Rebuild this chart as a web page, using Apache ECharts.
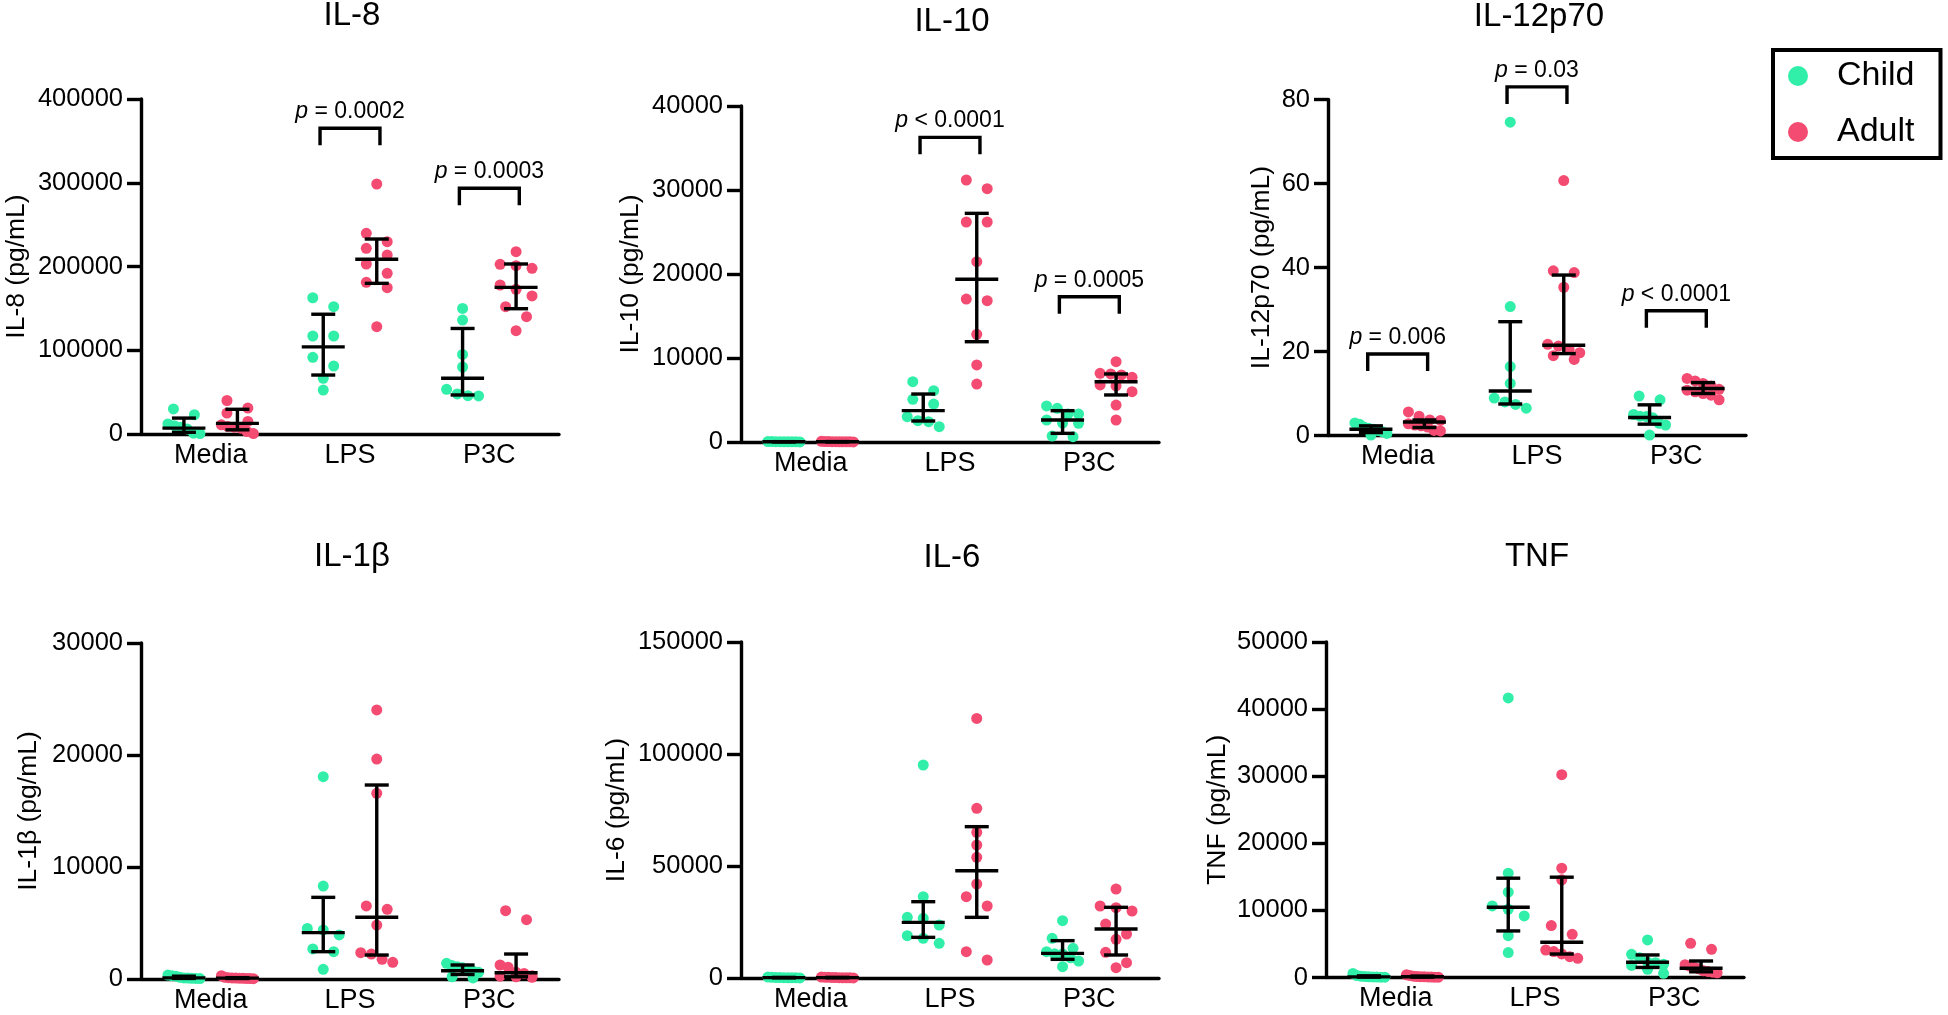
<!DOCTYPE html>
<html><head><meta charset="utf-8">
<script src="https://cdn.jsdelivr.net/npm/echarts@6/dist/echarts.min.js"></script>
<style>html,body{margin:0;padding:0;background:#fff}#c{width:1948px;height:1015px}</style>
</head><body><div id="c"></div>
<script>
// ---------------- DATA ----------------
const CATEGORIES = ['Media', 'LPS', 'P3C'];
const GROUPS = ['Child', 'Adult'];

// IL-8
const IL8_CHILD = [[30000, 23000, 12000, 10000, 8000, 6000, 1000, 500],
  [162700, 152000, 117000, 117000, 91500, 81200, 66500, 52500],
  [150000, 136000, 95000, 80000, 53300, 47800, 45800, 45500]];
const IL8_ADULT = [[40000, 31000, 25000, 15000, 11000, 9000, 8000, 7000, 3000, 500],
  [298500, 239600, 229600, 221700, 213700, 203000, 191900, 181100, 174700, 128100],
  [217700, 202600, 201000, 197800, 177900, 172700, 164800, 152000, 140100, 123400]];
const IL8_CHILD_MED_IQR = [[7000, 2000, 19000], [104000, 70400, 143000], [66500, 46600, 126000]];
const IL8_ADULT_MED_IQR = [[12700, 5000, 29500], [208600, 179900, 232800], [175100, 149600, 203000]];
const IL8_P = ['', 'p = 0.0002', 'p = 0.0003'];
const IL8_BRACKET = [null, 365000, 293400];
const IL8_Y = [0, 400000, 100000];

// IL-10
const IL10_CHILD = [[60, 50, 40, 40, 30, 30, 20, 20, 10],
  [7180, 6110, 5080, 4520, 3010, 2540, 2420, 1820],
  [4290, 4010, 3330, 3330, 2620, 2240, 2220, 700, 630]];
const IL10_ADULT = [[80, 60, 50, 40, 40, 30, 30, 20, 20, 10],
  [31190, 30160, 26190, 26190, 21470, 17020, 16830, 12820, 9170, 6900],
  [9560, 8180, 8100, 7980, 7700, 6790, 6670, 5990, 4400, 2620]];
const IL10_CHILD_MED_IQR = [[30, 20, 40], [3730, 2500, 5710], [2620, 1030, 3730]];
const IL10_ADULT_MED_IQR = [[35, 20, 50], [19370, 11940, 27220], [7180, 5600, 8100]];
const IL10_P = ['', 'p < 0.0001', 'p = 0.0005'];
const IL10_BRACKET = [null, 36270, 17300];
const IL10_Y = [0, 40000, 10000];

// IL-12p70
const IL12_CHILD = [[3.0, 2.7, 2.0, 1.7, 1.5, 1.2, 0.9, 0.5, 0.1],
  [74.6, 30.7, 16.4, 12.4, 8.9, 8.0, 7.4, 6.5],
  [9.4, 8.5, 5.0, 4.6, 4.5, 4.2, 2.9, 2.5, 0.1]];
const IL12_ADULT = [[5.6, 4.6, 3.7, 3.6, 2.8, 2.5, 2.3, 2.0, 1.2, 1.1],
  [60.7, 39.2, 38.8, 35.3, 21.7, 21.3, 20.5, 19.7, 19.0, 18.1],
  [13.6, 13.0, 12.4, 11.8, 11.0, 10.8, 10.4, 10.0, 9.6, 8.5]];
const IL12_CHILD_MED_IQR = [[1.5, 0.7, 2.3], [10.6, 7.5, 27.1], [4.3, 2.7, 7.3]];
const IL12_ADULT_MED_IQR = [[3.2, 1.9, 3.7], [21.5, 19.5, 38.2], [11.2, 10.0, 12.6]];
const IL12_P = ['p = 0.006', 'p = 0.03', 'p < 0.0001'];
const IL12_BRACKET = [19.4, 83.0, 29.7];
const IL12_Y = [0, 80, 20];

// IL-1β
const IL1B_CHILD = [[350, 300, 250, 150, 100, 80, 60, 50, 40],
  [18060, 8300, 4520, 4380, 3930, 2680, 2440, 860],
  [1400, 1200, 1100, 1000, 900, 700, 600, 200, 100]];
const IL1B_ADULT = [[300, 150, 120, 100, 80, 70, 60, 50, 40, 30],
  [24020, 19640, 16580, 6520, 6220, 4820, 2350, 2230, 1760, 1490],
  [6100, 5300, 1250, 1050, 600, 500, 300, 250, 200, 150]];
const IL1B_CHILD_MED_IQR = [[100, 50, 250], [4140, 2440, 7290], [740, 400, 1250]];
const IL1B_ADULT_MED_IQR = [[75, 45, 120], [5510, 2140, 17320], [560, 200, 2230]];
const IL1B_P = ['', '', ''];
const IL1B_BRACKET = [null, null, null];
const IL1B_Y = [0, 30000, 10000];

// IL-6
const IL6_CHILD = [[400, 300, 250, 200, 150, 100, 80, 60, 50],
  [95090, 36310, 27080, 26640, 23660, 18900, 17710, 15480],
  [25590, 17710, 13240, 11750, 10800, 10710, 9000, 7590, 5060]];
const IL6_ADULT = [[400, 350, 300, 250, 200, 150, 100, 80, 60, 50],
  [115900, 75740, 65030, 59370, 53870, 41960, 36300, 32140, 11750, 8040],
  [39730, 32140, 31400, 29910, 24100, 19640, 17260, 11460, 6850, 4610]];
const IL6_CHILD_MED_IQR = [[150, 70, 275], [24850, 18150, 34070], [11010, 8330, 16670]];
const IL6_ADULT_MED_IQR = [[175, 90, 300], [47900, 27080, 67560], [21870, 10270, 31550]];
const IL6_P = ['', '', ''];
const IL6_BRACKET = [null, null, null];
const IL6_Y = [0, 150000, 50000];

// TNF
const TNF_CHILD = [[600, 300, 200, 150, 100, 80, 60, 50, 40],
  [41670, 15550, 12710, 10670, 10170, 9180, 6240, 3710],
  [5600, 3460, 2960, 2270, 2200, 1970, 1800, 1220, 620]];
const TNF_ADULT = [[400, 300, 200, 150, 120, 100, 80, 60, 50, 40],
  [30220, 16290, 14550, 7740, 6440, 4100, 3860, 3510, 3110, 2860],
  [5100, 4200, 1900, 1700, 1500, 1300, 1000, 900, 800, 700]];
const TNF_CHILD_MED_IQR = [[100, 55, 250], [10470, 6940, 14800], [2270, 1500, 3360]];
const TNF_ADULT_MED_IQR = [[110, 55, 220], [5250, 3500, 14950], [1370, 850, 2460]];
const TNF_P = ['', '', ''];
const TNF_BRACKET = [null, null, null];
const TNF_Y = [0, 50000, 10000];

const TITLES = ['IL-8', 'IL-10', 'IL-12p70', 'IL-1β', 'IL-6', 'TNF'];
const YNAMES = ['IL-8 (pg/mL)', 'IL-10 (pg/mL)', 'IL-12p70 (pg/mL)', 'IL-1β (pg/mL)', 'IL-6 (pg/mL)', 'TNF (pg/mL)'];

// ---------------- LAYOUT / STYLE ----------------
const FONT = "'Liberation Sans', Arial, Helvetica, sans-serif";
const GREEN = '#31EFA9', PINK = '#F34B71';
const DOT = 11, MAXHALF = 16, OFFS = 0.192, BR_HALF = 0.215, LW = 3.4;
const GRID_W = 418;
const PFONT = 23;
const LAYOUTS = [
  {left: 141, top: 99, height: 335, gap: 111, tx: 352, ty: 16},
  {left: 741, top: 106, height: 336, gap: 97, tx: 952, ty: 22},
  {left: 1328, top: 99.5, height: 336, gap: 53, tx: 1539, ty: 17},
  {left: 141, top: 643, height: 336, gap: 99, tx: 352, ty: 557},
  {left: 741, top: 642, height: 336, gap: 111, tx: 952, ty: 558},
  {left: 1326, top: 642, height: 335.5, gap: 95, tx: 1537, ty: 556.5}
];

const PANELS = [
  [IL8_CHILD, IL8_ADULT, IL8_CHILD_MED_IQR, IL8_ADULT_MED_IQR, IL8_P, IL8_BRACKET, IL8_Y],
  [IL10_CHILD, IL10_ADULT, IL10_CHILD_MED_IQR, IL10_ADULT_MED_IQR, IL10_P, IL10_BRACKET, IL10_Y],
  [IL12_CHILD, IL12_ADULT, IL12_CHILD_MED_IQR, IL12_ADULT_MED_IQR, IL12_P, IL12_BRACKET, IL12_Y],
  [IL1B_CHILD, IL1B_ADULT, IL1B_CHILD_MED_IQR, IL1B_ADULT_MED_IQR, IL1B_P, IL1B_BRACKET, IL1B_Y],
  [IL6_CHILD, IL6_ADULT, IL6_CHILD_MED_IQR, IL6_ADULT_MED_IQR, IL6_P, IL6_BRACKET, IL6_Y],
  [TNF_CHILD, TNF_ADULT, TNF_CHILD_MED_IQR, TNF_ADULT_MED_IQR, TNF_P, TNF_BRACKET, TNF_Y]
];

// deterministic swarm: rows of colliding points spread horizontally (pixel-based)
function swarm(values, pxPerY, pxPerX) {
  const idx = values.map((v, i) => i).sort((a, b) => values[b] - values[a]);
  const rows = [];
  let cur = null;
  for (const i of idx) {
    const y = values[i] * pxPerY;
    if (cur && cur.y0 - y < DOT) cur.items.push(i);
    else { cur = {y0: y, items: [i]}; rows.push(cur); }
  }
  const off = new Array(values.length).fill(0);
  for (const r of rows) {
    const n = r.items.length;
    if (n < 2) continue;
    let s = n === 2 ? 1.9 * DOT : 1.45 * DOT;
    s = Math.min(s, 2 * MAXHALF / (n - 1));
    r.items.forEach((i, k) => { off[i] = (k - (n - 1) / 2) * s / pxPerX; });
  }
  return off;
}

function errorBarRender(params, api) {
  const x = api.value(0);
  const pm = api.coord([x, api.value(1)]);
  const p1 = api.coord([x, api.value(2)]);
  const p3 = api.coord([x, api.value(3)]);
  const st = {stroke: '#000', lineWidth: LW, fill: null};
  const hw = 21.5, cw = 12;
  return {type: 'group', children: [
    {type: 'line', shape: {x1: pm[0], y1: p1[1], x2: pm[0], y2: p3[1]}, style: st},
    {type: 'line', shape: {x1: pm[0] - hw, y1: pm[1], x2: pm[0] + hw, y2: pm[1]}, style: st},
    {type: 'line', shape: {x1: pm[0] - cw, y1: p1[1], x2: pm[0] + cw, y2: p1[1]}, style: st},
    {type: 'line', shape: {x1: pm[0] - cw, y1: p3[1], x2: pm[0] + cw, y2: p3[1]}, style: st}
  ]};
}

function makeBracketRender(texts) {
  return function (params, api) {
    const c = api.value(0), lvl = api.value(1), ti = api.value(2);
    const a = api.coord([c - BR_HALF, lvl]);
    const b = api.coord([c + BR_HALF, lvl]);
    const t = 17;
    const txt = texts[ti];
    const rich = {
      i: {fontStyle: 'italic', fontSize: PFONT, fontFamily: FONT, fill: '#000'},
      n: {fontSize: PFONT, fontFamily: FONT, fill: '#000'}
    };
    return {type: 'group', children: [
      {type: 'polyline', shape: {points: [[a[0], a[1] + t], [a[0], a[1]], [b[0], b[1]], [b[0], b[1] + t]]},
        style: {stroke: '#000', lineWidth: LW, fill: null, lineJoin: 'miter'}},
      {type: 'text', x: (a[0] + b[0]) / 2, y: a[1] - 5,
        style: {text: '{i|' + txt.charAt(0) + '}{n|' + txt.slice(1) + '}', rich: rich,
          align: 'center', verticalAlign: 'bottom', fontSize: PFONT, fontFamily: FONT, fill: '#000'}}
    ]};
  };
}

const grids = [], xAxes = [], yAxes = [], series = [], graphics = [];
PANELS.forEach((P, k) => {
  const [child, adult, cStats, aStats, pTexts, brackets, yr] = P;
  const L = LAYOUTS[k];
  grids.push({left: L.left, top: L.top, width: GRID_W, height: L.height, outerBoundsMode: 'none', containLabel: false});
  xAxes.push({
    type: 'category', gridIndex: k, data: CATEGORIES, boundaryGap: true,
    axisLine: {show: true, lineStyle: {color: '#000', width: LW}},
    axisTick: {show: false},
    axisLabel: {color: '#000', fontSize: 27, fontFamily: FONT, margin: 8},
    splitLine: {show: false}
  });
  xAxes.push({type: 'value', gridIndex: k, min: 0.5, max: 3.5, show: false});
  yAxes.push({
    type: 'value', gridIndex: k, min: yr[0], max: yr[1], interval: yr[2],
    name: YNAMES[k], nameLocation: 'middle', nameGap: L.gap, nameRotate: 90, nameMoveOverlap: false,
    nameTextStyle: {color: '#000', fontSize: 26.5, fontFamily: FONT},
    axisLine: {show: true, lineStyle: {color: '#000', width: LW}},
    axisTick: {show: true, inside: false, length: 14, lineStyle: {color: '#000', width: LW}},
    axisLabel: {color: '#000', fontSize: 25.5, fontFamily: FONT, margin: 18, formatter: v => String(v)},
    splitLine: {show: false}
  });
  const pxPerY = L.height / (yr[1] - yr[0]);
  const pxPerX = GRID_W / 3;
  [[child, -OFFS, GREEN, GROUPS[0]], [adult, OFFS, PINK, GROUPS[1]]].forEach(([grp, dx, col, nm]) => {
    const pts = [];
    grp.forEach((vals, c) => {
      const off = swarm(vals, pxPerY, pxPerX);
      vals.forEach((v, i) => pts.push([c + 1 + dx + off[i], v]));
    });
    series.push({type: 'scatter', name: nm, xAxisIndex: 2 * k + 1, yAxisIndex: k, data: pts,
      symbol: 'circle', symbolSize: DOT, itemStyle: {color: col, opacity: 1}, z: 3, silent: true, clip: false});
  });
  const ebData = [];
  cStats.forEach((s, c) => ebData.push([c + 1 - OFFS, s[0], s[1], s[2]]));
  aStats.forEach((s, c) => ebData.push([c + 1 + OFFS, s[0], s[1], s[2]]));
  series.push({type: 'custom', name: 'eb' + k, xAxisIndex: 2 * k + 1, yAxisIndex: k, data: ebData,
    renderItem: errorBarRender, z: 5, silent: true, clip: false});
  const brData = [];
  brackets.forEach((lvl, c) => { if (lvl !== null) brData.push([c + 1, lvl, c]); });
  if (brData.length) {
    series.push({type: 'custom', name: 'br' + k, xAxisIndex: 2 * k + 1, yAxisIndex: k, data: brData,
      renderItem: makeBracketRender(pTexts), z: 5, silent: true, clip: false});
  }
  graphics.push({type: 'text', x: L.tx, y: L.ty, silent: true,
    style: {text: TITLES[k], fontSize: 33, fontFamily: FONT, fill: '#000',
      align: 'center', verticalAlign: 'middle', textAlign: 'center', textVerticalAlign: 'middle'}});
});

const chart = echarts.init(document.getElementById('c'), null, {renderer: 'canvas', width: 1948, height: 1015});
chart.setOption({
  animation: false,
  backgroundColor: '#fff',
  textStyle: {fontFamily: FONT},
  grid: grids,
  xAxis: xAxes,
  yAxis: yAxes,
  series: series,
  graphic: graphics,
  legend: {
    data: GROUPS, orient: 'vertical', left: 1773, top: 50,
    padding: [9, 26, 9, 15], itemGap: 22, itemWidth: 20, itemHeight: 20,
    borderColor: '#000', borderWidth: 4, backgroundColor: '#fff',
    selectedMode: false,
    textStyle: {fontSize: 34, color: '#000', fontFamily: FONT, lineHeight: 34, padding: [0, 0, 0, 24]}
  }
});
</script>
</body></html>
